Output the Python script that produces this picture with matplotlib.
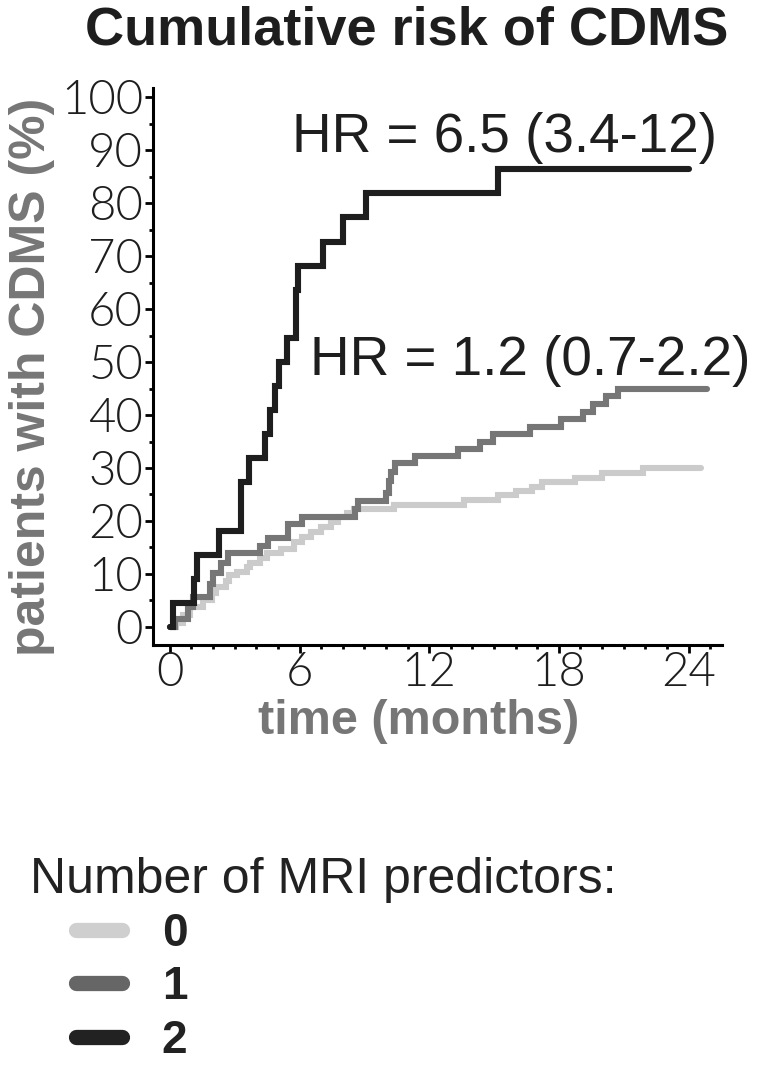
import numpy as np
import matplotlib.pyplot as plt
from matplotlib.lines import Line2D
from matplotlib.ticker import MultipleLocator

# Kaplan-Meier style cumulative risk (months, %)
t_none = [0, 0.3, 0.6, 0.95, 1.55, 1.95, 2.15, 2.6, 2.75, 3.1, 3.55, 3.72, 4.15, 4.5,
          5.15, 5.75, 6.1, 6.55, 7.0, 7.45, 7.8, 8.2, 8.5, 10.35, 13.6, 15.2, 16.0,
          16.75, 17.2, 18.75, 20.0, 21.9, 24.6]
risk_none = [0, 0.8, 2.3, 3.8, 5.1, 6.4, 7.6, 8.6, 9.8, 10.4, 11.3, 12.1, 13.0, 13.9,
             14.8, 16.1, 17.0, 18.0, 18.9, 19.9, 20.8, 21.5, 22.2, 23.0, 24.0, 24.9, 25.7,
             26.5, 27.3, 28.2, 29.0, 30.0, 30.0]

t_one = [0, 0.25, 0.85, 1.08, 1.85, 2.0, 2.39, 2.7, 4.17, 4.55, 5.48, 6.1, 8.56, 8.72,
         10.0, 10.15, 10.25, 10.4, 11.34, 13.35, 14.35, 14.97, 16.67, 18.1, 19.1, 19.6,
         20.2, 20.75, 24.85]
risk_one = [0, 1.6, 3.8, 5.7, 8.2, 10.1, 12.0, 13.9, 15.3, 16.7, 19.4, 20.8, 22.3, 23.8,
            25.3, 27.5, 29.3, 30.9, 32.3, 33.6, 35.0, 36.4, 37.8, 39.2, 40.6, 42.0,
            43.5, 44.9, 44.9]

t_two = [0, 0.15, 1.12, 1.28, 2.27, 3.29, 3.67, 4.4, 4.63, 4.86, 5.06, 5.43, 5.86, 5.95,
         7.1, 8.0, 9.1, 15.17, 24.0]
risk_two = [0, 4.5, 9.1, 13.6, 18.2, 27.3, 31.8, 36.4, 40.9, 45.5, 50.0, 54.5, 63.6, 68.2,
            72.7, 77.3, 81.8, 86.4, 86.4]

groups = ["0", "1", "2"]
colors = ["#cbcbcb", "#767676", "#1e1e1e"]
hr_text = ["HR = 1.2 (0.7-2.2)", "HR = 6.5 (3.4-12)"]

fig = plt.figure(figsize=(7.6, 10.67), dpi=100)
ax = fig.add_axes([0.201, 0.3955, 0.749, 0.522])

for t, r, c in zip([t_none, t_one, t_two], [risk_none, risk_one, risk_two], colors):
    ax.plot(t, r, drawstyle="steps-post", color=c, lw=4.4,
            solid_capstyle="round", solid_joinstyle="miter")

ax.set_xlim(-0.79, 25.55)
ax.set_ylim(-3.4, 101.7)

for s in ["top", "right"]:
    ax.spines[s].set_visible(False)
for s in ["left", "bottom"]:
    ax.spines[s].set_linewidth(2.2)

ax.xaxis.set_minor_locator(MultipleLocator(1))
ax.yaxis.set_minor_locator(MultipleLocator(5))
ax.tick_params(which="major", length=6, width=2, direction="out", pad=1)
ax.tick_params(axis="x", which="major", pad=-1)
ax.tick_params(which="minor", length=3, width=2, direction="out")
ax.set_xticks([0, 6, 12, 18, 24])
ax.set_yticks(np.arange(0, 101, 10))

for lab in ax.get_xticklabels() + ax.get_yticklabels():
    lab.set_fontfamily("Lato")
    lab.set_fontweight(300)
    lab.set_fontsize(34)
    lab.set_color("#1e1e1e")

# axis titles placed in axes coordinates
ax.text(0.467, -0.137, "time (months)", transform=ax.transAxes, ha="center", va="center",
        fontsize=35, fontweight="bold", color="#767676", family="Liberation Sans")
ax.text(-0.213, 0.481, "patients with CDMS (%)", transform=ax.transAxes, rotation=90,
        ha="center", va="center", fontsize=36, fontweight="bold", color="#767676",
        family="Liberation Sans")

ax.text(5.65, 89.6, hr_text[1], fontsize=39.5, family="Liberation Sans", color="#1e1e1e",
        va="baseline")
ax.text(6.48, 47.5, hr_text[0], fontsize=39.5, family="Liberation Sans", color="#1e1e1e",
        va="baseline")

fig.text(0.535, 0.971, "Cumulative risk of CDMS", ha="center", va="center",
         fontsize=39, fontweight="bold", family="Liberation Sans", color="#1e1e1e")

fig.text(0.039, 0.175, "Number of MRI predictors:", ha="left", va="center",
         fontsize=36, family="Liberation Sans", color="#222222")

handles = [Line2D([0], [0], color=c, lw=11, solid_capstyle="round") for c in
           ["#cfcfcf", "#666666", "#222222"]]
leg = fig.legend(handles, groups, loc="upper left", bbox_to_anchor=(0.1, 0.1455),
                 frameon=False,
                 prop=dict(family="Liberation Sans", weight="bold", size=33),
                 handlelength=1.0, handletextpad=0.87, labelspacing=0.21,
                 borderaxespad=0, borderpad=0)
for txt in leg.get_texts():
    txt.set_color("#222222")

fig.savefig("out.png", dpi=100)
